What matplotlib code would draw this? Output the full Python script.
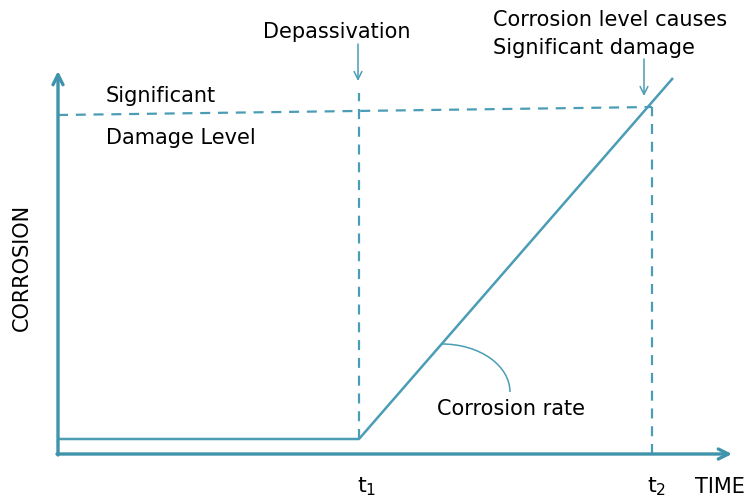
import numpy as np
import matplotlib
matplotlib.use("Agg")
import matplotlib.pyplot as plt
from matplotlib.patches import Arc

# conceptual corrosion-vs-time diagram (units: px from origin)
t1 = 301
t2 = 594
base_level = 15
line_time = [0, t1, 615]
line_corrosion = [base_level, base_level, 376]
damage_time = [0, t2]
damage_level = [339, 347]
axis_end = [674, 383]       # x arrow tip, y arrow tip
depass_arrow = [410, 373]   # arrow start / end (corrosion axis)
damage_arrow = [395, 358]

teal = '#4a9db5'
axis_col = '#3f93ab'
fs = 15

fig = plt.figure(figsize=(7.53, 5.02), dpi=100)
ax = fig.add_axes([0, 0, 1, 1])
ax.set_xlim(-58, 695)
ax.set_ylim(-47, 455)
ax.axis('off')

# axes arrows
ax.annotate('', xy=(axis_end[0], 0), xytext=(-1, 0),
            arrowprops=dict(arrowstyle='->', color=axis_col, lw=2.4,
                            mutation_scale=18, shrinkA=0, shrinkB=0))
ax.annotate('', xy=(0, axis_end[1]), xytext=(0, -1),
            arrowprops=dict(arrowstyle='->', color=axis_col, lw=2.4,
                            mutation_scale=18, shrinkA=0, shrinkB=0))

# corrosion curve
ax.plot(line_time, line_corrosion, color=teal, lw=1.8, solid_capstyle='butt')

# dashed guides
ax.plot(damage_time, damage_level, color=teal, lw=1.6, ls=(0, (4.5, 3.5)))
ax.plot([t1, t1], [base_level, 361], color=teal, lw=1.6, ls=(0, (4.5, 3.5)))
ax.plot([t2, t2], [0, damage_level[1]], color=teal, lw=1.6, ls=(0, (4.5, 3.5)))

# pointer arrows
ax.annotate('', xy=(t1 - 1, depass_arrow[1]), xytext=(t1 - 1, depass_arrow[0]),
            arrowprops=dict(arrowstyle='->', color=teal, lw=1.1,
                            mutation_scale=14, shrinkA=0, shrinkB=0))
ax.annotate('', xy=(586, damage_arrow[1]), xytext=(586, damage_arrow[0]),
            arrowprops=dict(arrowstyle='->', color=teal, lw=1.1,
                            mutation_scale=14, shrinkA=0, shrinkB=0))

# corrosion rate arc
ax.add_patch(Arc((384, 62), 136, 96, theta1=0, theta2=90, color=teal, lw=1.1))

# labels
ax.text(279, 423, 'Depassivation', fontsize=fs, ha='center', va='center')
ax.text(435, 435, 'Corrosion level causes', fontsize=fs, ha='left', va='center')
ax.text(435, 407, 'Significant damage', fontsize=fs, ha='left', va='center')
ax.text(48, 359, 'Significant', fontsize=fs, ha='left', va='center')
ax.text(48, 317, 'Damage Level', fontsize=fs, ha='left', va='center')
ax.text(-36, 188, 'CORROSION', fontsize=fs, ha='center', va='center', rotation=90)
ax.text(379, 46, 'Corrosion rate', fontsize=fs, ha='left', va='center')
ax.text(309, -32, r'$\mathregular{t_1}$', fontsize=fs + 1, ha='center', va='center')
ax.text(599, -32, r'$\mathregular{t_2}$', fontsize=fs + 1, ha='center', va='center')
ax.text(637, -32, 'TIME', fontsize=fs, ha='left', va='center')

fig.savefig('out.png', dpi=100, facecolor='white')
